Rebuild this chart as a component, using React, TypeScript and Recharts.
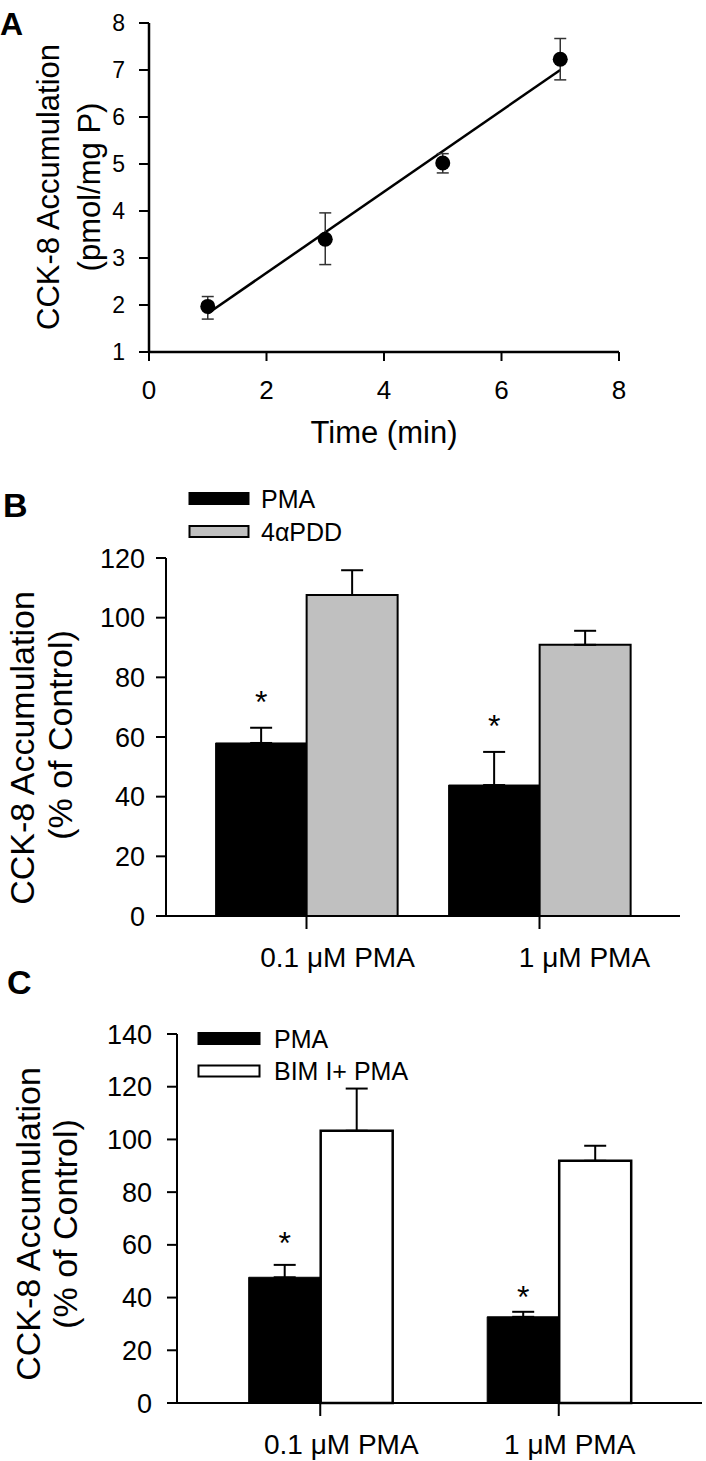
import { ComposedChart, BarChart, Bar, Line, Scatter, XAxis, YAxis, ErrorBar, Label, LabelList, Legend } from 'recharts'

// Panel A: time course
const timeMin = [1, 3, 5, 7]
const cckMean = [1.97, 3.4, 5.02, 7.23]
const cckLow = [1.7, 2.86, 4.81, 6.79]
const cckHigh = [2.18, 3.96, 5.22, 7.67]
const fitX = [1, 7]
const fitY = [1.82, 7.0]
const timeTicks = [0, 2, 4, 6, 8]
const cckTicks = [1, 2, 3, 4, 5, 6, 7, 8]

// Panel B: PMA vs 4aPDD
const doses = ['0.1 μM PMA', '1 μM PMA']
const seriesB = ['PMA', '4αPDD']
const pmaB = [58.0, 43.9]
const pmaBTop = [63.1, 55.0]
const pddB = [107.6, 90.9]
const pddBTop = [115.9, 95.6]
const starB = [74, 66]
const ticksB = [0, 20, 40, 60, 80, 100, 120]

// Panel C: PMA vs BIM I + PMA
const seriesC = ['PMA', 'BIM I+ PMA']
const pmaC = [47.7, 32.7]
const pmaCTop = [52.4, 34.6]
const bimC = [103.3, 91.9]
const bimCTop = [119.3, 97.6]
const starC = [63.4, 43]
const ticksC = [0, 20, 40, 60, 80, 100, 120, 140]

const dataA = timeMin.map((x, i) => ({ x, y: cckMean[i], err: [cckMean[i] - cckLow[i], cckHigh[i] - cckMean[i]] }))
const fitA = fitX.map((x, i) => ({ x, y: fitY[i] }))

const dataB = doses.map((dose, i) => ({
  dose,
  pma: pmaB[i],
  pmaErr: [0, pmaBTop[i] - pmaB[i]],
  ctrl: pddB[i],
  ctrlErr: [0, pddBTop[i] - pddB[i]],
  star: starB[i],
}))

const dataC = doses.map((dose, i) => ({
  dose,
  pma: pmaC[i],
  pmaErr: [0, pmaCTop[i] - pmaC[i]],
  ctrl: bimC[i],
  ctrlErr: [0, bimCTop[i] - bimC[i]],
  star: starC[i],
}))

const FONT = '"Liberation Sans", Arial, Helvetica, sans-serif'
const AXIS = { stroke: '#000', strokeWidth: 2.5 }
const TICK = { stroke: '#000', strokeWidth: 2 }

function rotatedTitle(lines: string[], xs: number[], ys: number[], size: number) {
  return (
    <Label
      content={() => (
        <g>
          {lines.map((t, i) => (
            <text
              key={i}
              x={xs[i]}
              y={ys[i]}
              transform={`rotate(-90 ${xs[i]} ${ys[i]})`}
              textAnchor="middle"
              dominantBaseline="central"
              fontSize={size}
              fill="#000"
            >
              {t}
            </text>
          ))}
        </g>
      )}
    />
  )
}

function DoseTick(props: any) {
  const { x, y, payload, shift } = props
  const i = payload?.index ?? props.index ?? 0
  return (
    <text x={x + shift[i]} y={y} dy="0.71em" textAnchor="middle" fontSize={28} fill="#000">
      {payload.value}
    </text>
  )
}

function makeStar(barVals: number[]) {
  return (props: any) => {
    const vb = props.viewBox ?? props
    const i = props.index ?? 0
    const base = vb.y + vb.height
    const py = base - Number(props.value) * (vb.height / barVals[i])
    return (
      <text x={vb.x + vb.width / 2} y={py + 18} textAnchor="middle" fontSize={32} fill="#000">
        *
      </text>
    )
  }
}

function KeyBox({ names, fills, gap, swatchW, textX }: { names: string[]; fills: string[]; gap: number; swatchW: number; textX: number }) {
  return (
    <svg width={330} height={gap + 30} style={{ display: 'block', fontFamily: FONT }}>
      {names.map((n, i) => (
        <g key={n}>
          <rect x={1.5} y={i * gap + 7} width={swatchW} height={11} fill={fills[i]} stroke="#000" strokeWidth={2} />
          <text x={textX} y={i * gap + 12.5} dominantBaseline="central" fontSize={25} fill="#000">
            {n}
          </text>
        </g>
      ))}
    </svg>
  )
}

function PanelLetter({ text, left, top, size }: { text: string; left: number; top: number; size: number }) {
  return (
    <div style={{ position: 'absolute', left, top, fontSize: size, lineHeight: 1, fontWeight: 700, fontFamily: FONT }}>
      {text}
    </div>
  )
}

export default function App() {
  return (
    <div style={{ position: 'absolute', left: 0, top: 0, width: 706, height: 1461, background: '#fff', fontFamily: FONT }}>
      <PanelLetter text="A" left={0} top={8} size={32} />
      <PanelLetter text="B" left={3} top={488} size={34} />
      <PanelLetter text="C" left={7} top={965} size={34} />

      <div style={{ position: 'absolute', left: 0, top: 0 }}>
        <ComposedChart width={706} height={470} margin={{ top: 23, right: 87, bottom: 18, left: 0 }}>
          <XAxis
            type="number"
            dataKey="x"
            domain={[0, 8]}
            ticks={timeTicks}
            height={100}
            tickSize={9}
            tickMargin={20}
            axisLine={AXIS}
            tickLine={TICK}
            tick={{ fill: '#000', fontSize: 26 }}
          >
            <Label
              content={() => (
                <text x={384} y={432} textAnchor="middle" dominantBaseline="central" fontSize={31} fill="#000">
                  Time (min)
                </text>
              )}
            />
          </XAxis>
          <YAxis
            type="number"
            domain={[1, 8]}
            ticks={cckTicks}
            width={149}
            tickSize={10}
            tickMargin={14}
            axisLine={AXIS}
            tickLine={TICK}
            tick={{ fill: '#000', fontSize: 23 }}
          >
            {rotatedTitle(['CCK-8 Accumulation', '(pmol/mg P)'], [48, 89], [187, 187], 31)}
          </YAxis>
          <Line data={fitA} dataKey="y" stroke="#000" strokeWidth={2.5} dot={false} isAnimationActive={false} />
          <Scatter
            data={dataA}
            dataKey="y"
            isAnimationActive={false}
            shape={(p: any) => <circle cx={p.cx} cy={p.cy} r={7.5} fill="#000" />}
          >
            <ErrorBar dataKey="err" direction="y" width={6} stroke="#333" strokeWidth={1.5} />
          </Scatter>
        </ComposedChart>
      </div>

      <div style={{ position: 'absolute', left: 0, top: 470 }}>
        <BarChart
          width={706}
          height={520}
          data={dataB}
          margin={{ top: 88, right: 26, bottom: 4, left: 0 }}
          barCategoryGap="11%"
          barGap={0}
        >
          <XAxis
            dataKey="dose"
            height={70}
            padding={{ left: 24, right: 24 }}
            tickSize={13}
            tickMargin={18}
            axisLine={{ stroke: '#000', strokeWidth: 2 }}
            tickLine={TICK}
            tick={(p: any) => <DoseTick {...p} shift={[31, 45]} />}
          />
          <YAxis
            type="number"
            domain={[0, 120]}
            ticks={ticksB}
            width={166}
            tickSize={10}
            tickMargin={11}
            axisLine={{ stroke: '#000', strokeWidth: 2 }}
            tickLine={TICK}
            tick={{ fill: '#000', fontSize: 27 }}
          >
            {rotatedTitle(['CCK-8 Accumulation', '(% of Control)'], [22, 60], [278, 265], 34)}
          </YAxis>
          <Legend
            layout="vertical"
            align="center"
            verticalAlign="middle"
            wrapperStyle={{ left: 188, top: 16, width: 330 }}
            content={() => <KeyBox names={seriesB} fills={['#000', '#c0c0c0']} gap={33} swatchW={59} textX={73} />}
          />
          <Bar dataKey="pma" name={seriesB[0]} fill="#000" stroke="#000" strokeWidth={1} isAnimationActive={false}>
            <ErrorBar dataKey="pmaErr" direction="y" width={11} stroke="#000" strokeWidth={2} />
            <LabelList dataKey="star" content={makeStar(pmaB)} />
          </Bar>
          <Bar dataKey="ctrl" name={seriesB[1]} fill="#c0c0c0" stroke="#000" strokeWidth={2} isAnimationActive={false}>
            <ErrorBar dataKey="ctrlErr" direction="y" width={11} stroke="#000" strokeWidth={2} />
          </Bar>
        </BarChart>
      </div>

      <div style={{ position: 'absolute', left: 0, top: 990 }}>
        <BarChart
          width={706}
          height={471}
          data={dataC}
          margin={{ top: 44, right: 4, bottom: 0, left: 0 }}
          barCategoryGap="20%"
          barGap={0}
        >
          <XAxis
            dataKey="dose"
            height={58}
            padding={{ left: 24, right: 24 }}
            tickSize={13}
            tickMargin={18}
            axisLine={{ stroke: '#000', strokeWidth: 2 }}
            tickLine={TICK}
            tick={(p: any) => <DoseTick {...p} shift={[21, 11]} />}
          />
          <YAxis
            type="number"
            domain={[0, 140]}
            ticks={ticksC}
            width={177}
            tickSize={10}
            tickMargin={15}
            axisLine={{ stroke: '#000', strokeWidth: 2 }}
            tickLine={TICK}
            tick={{ fill: '#000', fontSize: 27 }}
          >
            {rotatedTitle(['CCK-8 Accumulation', '(% of Control)'], [28, 65], [234, 234], 34)}
          </YAxis>
          <Legend
            layout="vertical"
            align="center"
            verticalAlign="middle"
            wrapperStyle={{ left: 197, top: 36, width: 330 }}
            content={() => <KeyBox names={seriesC} fills={['#000', '#fff']} gap={32.5} swatchW={61} textX={77} />}
          />
          <Bar dataKey="pma" name={seriesC[0]} fill="#000" stroke="#000" strokeWidth={1} isAnimationActive={false}>
            <ErrorBar dataKey="pmaErr" direction="y" width={11} stroke="#000" strokeWidth={2} />
            <LabelList dataKey="star" content={makeStar(pmaC)} />
          </Bar>
          <Bar dataKey="ctrl" name={seriesC[1]} fill="#fff" stroke="#000" strokeWidth={2.5} isAnimationActive={false}>
            <ErrorBar dataKey="ctrlErr" direction="y" width={11} stroke="#000" strokeWidth={2} />
          </Bar>
        </BarChart>
      </div>
    </div>
  )
}
